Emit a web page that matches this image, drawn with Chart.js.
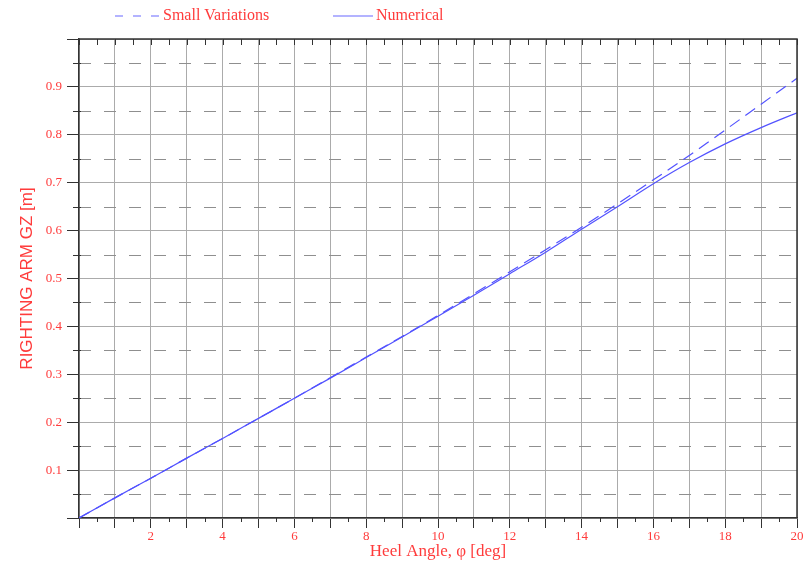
<!DOCTYPE html>
<html>
<head>
<meta charset="utf-8">
<script src="https://cdn.jsdelivr.net/npm/chart.js@4.4.1/dist/chart.umd.min.js"></script>
<style>
  html, body { margin: 0; padding: 0; background: #fff; }
  #wrap { width: 811px; height: 564px; }
</style>
</head>
<body>
<div id="wrap"><canvas id="gz"></canvas></div>
<script>
// Data
const heelAngles = [0, 1, 2, 3, 4, 5, 6, 7, 8, 9, 10, 11, 12, 13, 14, 15, 16, 17, 18, 19, 20];
const smallVariations = [0, 0.042, 0.083, 0.125, 0.166, 0.208, 0.250, 0.293, 0.336, 0.379, 0.423,
  0.468, 0.514, 0.560, 0.607, 0.656, 0.706, 0.757, 0.810, 0.864, 0.918];
const numerical = [0, 0.042, 0.083, 0.125, 0.166, 0.208, 0.250, 0.292, 0.335, 0.378, 0.421,
  0.465, 0.510, 0.555, 0.603, 0.650, 0.698, 0.742, 0.781, 0.815, 0.846];
const seriesNames = ['Small Variations', 'Numerical'];

const RED = '#ff3b3b';
const BLUE = '#5252ff';
const GRID = '#ababab';
const AXIS = '#333333';
const SERIF = '"Liberation Serif", "DejaVu Serif", serif';

const toPoints = ys => heelAngles.map((x, i) => ({ x, y: ys[i] }));

// Minor gridlines, minor ticks, frame and legend
const extras = {
  id: 'extras',
  beforeDatasetsDraw(chart) {
    const { ctx, chartArea: a, scales: { y } } = chart;
    ctx.save();
    // dashed minor horizontal lines between major y ticks
    ctx.strokeStyle = '#8f8f8f';
    ctx.lineWidth = 1;
    ctx.setLineDash([12, 13]);
    for (let i = 0; i < y.ticks.length - 1; i++) {
      const py = Math.round(y.getPixelForValue((y.ticks[i].value + y.ticks[i + 1].value) / 2)) + 0.5;
      ctx.beginPath();
      ctx.moveTo(a.left, py);
      ctx.lineTo(a.right, py);
      ctx.stroke();
    }
    ctx.setLineDash([]);
    ctx.restore();
  },
  afterDraw(chart) {
    const { ctx, chartArea: a, scales: { x, y } } = chart;
    ctx.save();
    ctx.strokeStyle = AXIS;
    ctx.lineWidth = 1;
    // half-unit ticks on x (bottom outward, top inward)
    for (let i = 0; i < x.ticks.length - 1; i++) {
      const px = Math.round(x.getPixelForValue((x.ticks[i].value + x.ticks[i + 1].value) / 2)) + 0.5;
      ctx.beginPath();
      ctx.moveTo(px, a.bottom); ctx.lineTo(px, a.bottom + 4);
      ctx.moveTo(px, a.top); ctx.lineTo(px, a.top + 6);
      ctx.stroke();
    }
    // integer ticks on top axis
    x.ticks.forEach(t => {
      const px = Math.round(x.getPixelForValue(t.value)) + 0.5;
      ctx.beginPath();
      ctx.moveTo(px, a.top); ctx.lineTo(px, a.top + 6);
      ctx.stroke();
    });
    // minor ticks on y
    for (let i = 0; i < y.ticks.length - 1; i++) {
      const py = Math.round(y.getPixelForValue((y.ticks[i].value + y.ticks[i + 1].value) / 2)) + 0.5;
      ctx.beginPath();
      ctx.moveTo(a.left - 6, py); ctx.lineTo(a.left + 2, py);
      ctx.stroke();
    }
    // top and right frame
    ctx.lineWidth = 1.5;
    ctx.beginPath();
    ctx.moveTo(a.left, a.top); ctx.lineTo(a.right, a.top); ctx.lineTo(a.right, a.bottom);
    ctx.stroke();

    // legend
    const legendX = [115, 333];
    const sampleW = [45, 40];
    const ly = 16;
    ctx.font = '16px ' + SERIF;
    ctx.textBaseline = 'middle';
    ctx.textAlign = 'left';
    chart.data.datasets.forEach((ds, i) => {
      ctx.strokeStyle = '#9a9aff';
      ctx.lineWidth = 1.3;
      ctx.setLineDash(ds.borderDash && ds.borderDash.length ? [8, 10] : []);
      ctx.beginPath();
      ctx.moveTo(legendX[i], ly); ctx.lineTo(legendX[i] + sampleW[i], ly);
      ctx.stroke();
      ctx.setLineDash([]);
      ctx.fillStyle = RED;
      ctx.fillText(ds.label, legendX[i] + sampleW[i] + 3, ly);
    });
    ctx.restore();
  }
};

new Chart(document.getElementById('gz'), {
  type: 'line',
  data: {
    datasets: [
      {
        label: seriesNames[0],
        data: toPoints(smallVariations),
        borderColor: BLUE,
        borderWidth: 1.2,
        borderDash: [12, 7],
        pointRadius: 0,
        cubicInterpolationMode: 'monotone',
        fill: false
      },
      {
        label: seriesNames[1],
        data: toPoints(numerical),
        borderColor: BLUE,
        borderWidth: 1.2,
        pointRadius: 0,
        cubicInterpolationMode: 'monotone',
        fill: false
      }
    ]
  },
  options: {
    responsive: true,
    maintainAspectRatio: false,
    animation: false,
    layout: { padding: { top: 39, right: 14, left: 0, bottom: 0 } },
    plugins: {
      legend: { display: false },
      tooltip: { enabled: false }
    },
    scales: {
      x: {
        type: 'linear',
        min: 0,
        max: 20,
        afterFit: s => { s.height = 46; },
        border: { color: AXIS, width: 1.5 },
        grid: { color: GRID, lineWidth: 1, tickColor: AXIS, tickLength: 10 },
        ticks: {
          stepSize: 1,
          autoSkip: false,
          maxRotation: 0,
          padding: 1,
          color: RED,
          font: { family: SERIF, size: 13 },
          callback: v => (v > 0 && v % 2 === 0) ? String(v) : ''
        },
        title: {
          display: true,
          text: 'Heel Angle, φ [deg]',
          color: RED,
          font: { family: SERIF, size: 17 },
          padding: { top: 0, bottom: 2 }
        }
      },
      y: {
        min: 0,
        max: 1,
        afterFit: s => { s.width = 79; },
        border: { color: AXIS, width: 1.5 },
        grid: { color: GRID, lineWidth: 1, tickColor: AXIS, tickLength: 12 },
        ticks: {
          stepSize: 0.1,
          autoSkip: false,
          padding: 5,
          color: RED,
          font: { family: SERIF, size: 13 },
          callback: v => (v > 0.01 && v < 0.99) ? v.toFixed(1) : ''
        },
        title: {
          display: true,
          text: 'RIGHTING ARM GZ [m]',
          color: RED,
          font: { family: '"Liberation Sans", Arial, sans-serif', size: 17 },
          padding: { top: 17, bottom: 0 }
        }
      }
    }
  },
  plugins: [extras]
});
</script>
</body>
</html>
